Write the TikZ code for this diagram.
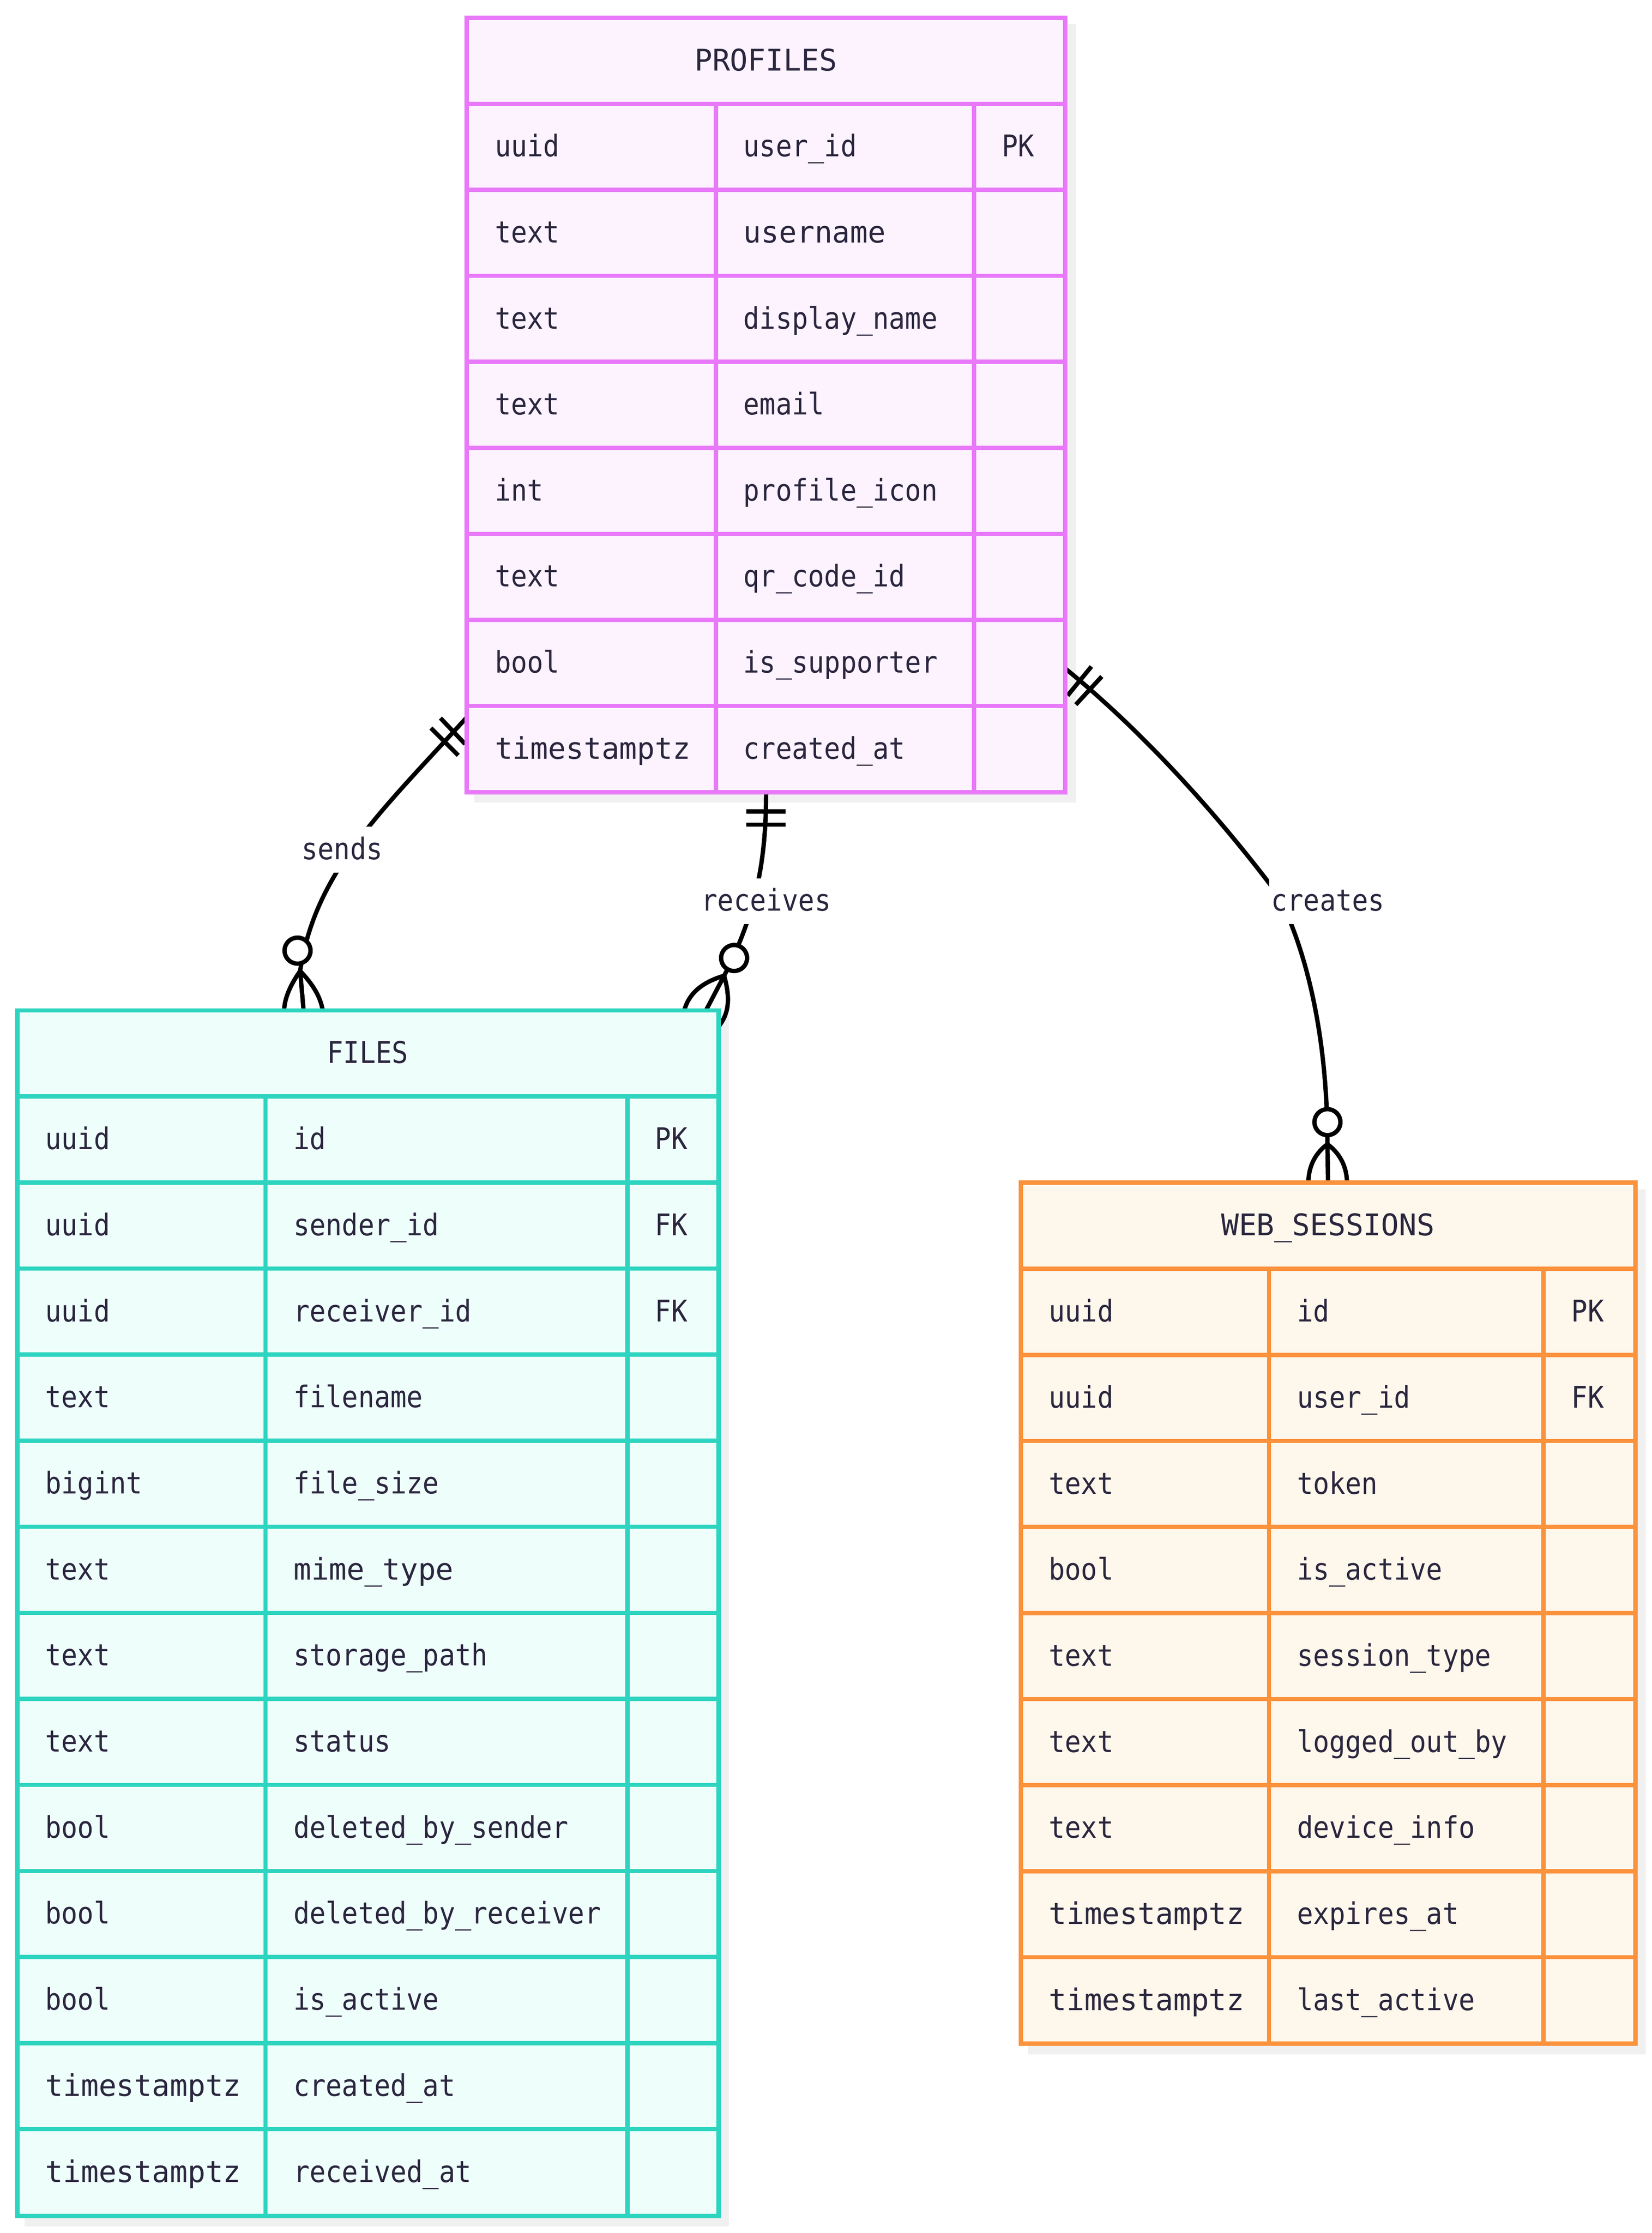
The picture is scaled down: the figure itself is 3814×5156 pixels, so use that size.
\documentclass[tikz,border=0pt]{standalone}
\usepackage{fontspec}
\setmonofont[FakeStretch=0.9]{DejaVu Sans Mono}
\newcommand{\widem}[1]{\scalebox{1.1}[1]{#1}}
\pgfdeclarelayer{shadowlayer}
\pgfdeclarelayer{edgelayer}
\pgfsetlayers{shadowlayer,edgelayer,main}
\begin{document}
\begin{tikzpicture}[x=0.01cm, y=-0.01cm,
    entity/.style={rectangle, anchor=north west, inner sep=0, outer sep=0, line width=2.9pt},
    gridline/.style={line width=2.8pt},
    celltext/.style={font=\ttfamily\fontsize{19.6}{22}\selectfont, text=inktext, inner sep=0, anchor=base west},
    headtext/.style={font=\ttfamily\fontsize{19.6}{22}\selectfont, text=inktext, inner sep=0, anchor=base},
    rellabel/.style={font=\ttfamily\fontsize{19.6}{22}\selectfont, text=inktext, fill=white, anchor=base,
        inner xsep=0.05cm, inner ysep=0, text height=0.75cm, text depth=0.31cm},
    relline/.style={draw=black, line width=2.85pt},
    zerocircle/.style={circle, draw=black, fill=white, line width=2.85pt, minimum size=0.6cm, inner sep=0, outer sep=0},
    shadowbox/.style={fill=shadowgray}]
    % Define entity colors
    \definecolor{inktext}{RGB}{42,38,62}
    \definecolor{shadowgray}{RGB}{240,240,240}
    \definecolor{pinkline}{RGB}{232,121,249}
    \definecolor{pinkfill}{RGB}{253,243,255}
    \definecolor{tealline}{RGB}{45,212,191}
    \definecolor{tealfill}{RGB}{238,254,251}
    \definecolor{orangeline}{RGB}{251,146,60}
    \definecolor{orangefill}{RGB}{254,247,235}

    \useasboundingbox (0,0) rectangle (3814,5156);

    % Profiles
    \node[entity, draw=pinkline, fill=pinkfill, minimum width=13.81cm, minimum height=17.87cm] (profiles) at (1078,41) {};
    \node[headtext] (profiles-head) at (1768,163) {\widem{PROFILES}};
    \foreach \r in {1,...,8} {
        \draw[gridline, draw=pinkline] (1078,{41+\r*198.6}) -- (2459,{41+\r*198.6});
    }
    \foreach \c in {1653,2249} {
        \draw[gridline, draw=pinkline] (\c,239.6) -- (\c,1828);
    }
    \foreach \ty/\nm [count=\r] in {uuid/user\_id,text/\widem{username},text/display\_name,text/email,int/profile\_icon,text/qr\_code\_id,bool/is\_supporter,\widem{timestamptz}/created\_at} {
        \node[celltext] (profiles-type-\r) at (1142,{41+\r*198.6+122.3}) {\ty};
        \node[celltext] (profiles-name-\r) at (1716,{41+\r*198.6+122.3}) {\nm};
    }
    \node[celltext] (profiles-key-1) at (2313,{41+198.6+122.3}) {PK};

    % Files
    \node[entity, draw=tealline, fill=tealfill, minimum width=16.18cm, minimum height=27.82cm] (files) at (40,2333) {};
    \node[headtext] (files-head) at (849,2455) {FILES};
    \foreach \r in {1,...,13} {
        \draw[gridline, draw=tealline] (40,{2333+\r*198.7}) -- (1658,{2333+\r*198.7});
    }
    \foreach \c in {613,1449} {
        \draw[gridline, draw=tealline] (\c,2531.7) -- (\c,5115);
    }
    \foreach \ty/\nm [count=\r] in {uuid/id,uuid/sender\_id,uuid/receiver\_id,text/filename,bigint/file\_size,text/\widem{mime\_type},text/storage\_path,text/status,bool/deleted\_by\_sender,bool/deleted\_by\_receiver,bool/is\_active,\widem{timestamptz}/created\_at,\widem{timestamptz}/received\_at} {
        \node[celltext] (files-type-\r) at (104,{2333+\r*198.7+122.3}) {\ty};
        \node[celltext] (files-name-\r) at (677,{2333+\r*198.7+122.3}) {\nm};
    }
    \foreach \r/\ky in {1/PK,2/FK,3/FK} {
        \node[celltext] (files-key-\r) at (1512,{2333+\r*198.7+122.3}) {\ky};
    }

    % Web sessions
    \node[entity, draw=orangeline, fill=orangefill, minimum width=14.18cm, minimum height=19.87cm] (websessions) at (2357,2731) {};
    \node[headtext] (websessions-head) at (3066,2853) {\widem{WEB\_SESSIONS}};
    \foreach \r in {1,...,9} {
        \draw[gridline, draw=orangeline] (2357,{2731+\r*198.7}) -- (3775,{2731+\r*198.7});
    }
    \foreach \c in {2930,3564} {
        \draw[gridline, draw=orangeline] (\c,2929.7) -- (\c,4718);
    }
    \foreach \ty/\nm [count=\r] in {uuid/id,uuid/user\_id,text/token,bool/is\_active,text/session\_type,text/logged\_out\_by,text/device\_info,\widem{timestamptz}/expires\_at,\widem{timestamptz}/last\_active} {
        \node[celltext] (websessions-type-\r) at (2421,{2731+\r*198.7+122.3}) {\ty};
        \node[celltext] (websessions-name-\r) at (2994,{2731+\r*198.7+122.3}) {\nm};
    }
    \foreach \r/\ky in {1/PK,2/FK} {
        \node[celltext] (websessions-key-\r) at (3628,{2731+\r*198.7+122.3}) {\ky};
    }

    % Shadows
    \begin{pgfonlayer}{shadowlayer}
        \foreach \b in {profiles,files,websessions} {
            \fill[shadowbox] ([shift={(17,15)}]\b.north west) rectangle ([shift={(24,24)}]\b.south east);
        }
    \end{pgfonlayer}

    % Connector ends
    \coordinate (sendsTop) at (1078,1656);
    \coordinate (sendsFoot) at (693,2242);
    \coordinate (receivesFoot) at (1672,2253);
    \coordinate (createsTop) at (2459,1543);
    \coordinate (createsMid) at (2950,2065);
    \coordinate (createsFoot) at (3065,2642);

    \begin{pgfonlayer}{edgelayer}
        % Sends
        \draw[relline] (sendsTop) .. controls (878,1876) and (728,2012) .. (sendsFoot);
        \draw[relline] (1017,1658) -- (1074,1718);
        \draw[relline] (995,1681) -- (1058,1744);
        \draw[relline] (sendsFoot) -- (701,2333);
        \draw[relline] (sendsFoot) .. controls (670,2275) and (657,2305) .. (656,2333);
        \draw[relline] (sendsFoot) .. controls (720,2270) and (740,2300) .. (745,2333);
        \node[zerocircle] (sendsZero) at (687,2195) {};

        % Receives
        \draw[relline] (profiles.south) .. controls (1769,1990) and (1745,2110) .. (receivesFoot);
        \draw[relline] (1723,1874) -- (1814,1874);
        \draw[relline] (1723,1904) -- (1814,1904);
        \draw[relline] (receivesFoot) -- (1630,2333);
        \draw[relline] (receivesFoot) .. controls (1620,2268) and (1590,2295) .. (1580,2333);
        \draw[relline] (receivesFoot) .. controls (1688,2310) and (1682,2345) .. (1655,2375);
        \node[zerocircle] (receivesZero) at (1695,2212) {};

        % Creates
        \draw[relline] (createsTop) .. controls (2640,1690) and (2815,1885) .. (createsMid)
            .. controls (2995,2150) and (3065,2340) .. (createsFoot);
        \draw[relline] (2520,1539) -- (2465,1606);
        \draw[relline] (2544,1562) -- (2484,1627);
        \draw[relline] (createsFoot) -- (websessions.north);
        \draw[relline] (createsFoot) .. controls (3040,2660) and (3021,2690) .. (3021,2731);
        \draw[relline] (createsFoot) .. controls (3090,2660) and (3110,2690) .. (3110,2731);
        \node[zerocircle] (createsZero) at (3065,2591) {};
    \end{pgfonlayer}

    % Labels
    \node[rellabel] (sendsLabel) at (790,1984) {sends};
    \node[rellabel] (receivesLabel) at (1769,2103) {receives};
    \node[rellabel] (createsLabel) at (3066,2103) {creates};
\end{tikzpicture}
\end{document}
